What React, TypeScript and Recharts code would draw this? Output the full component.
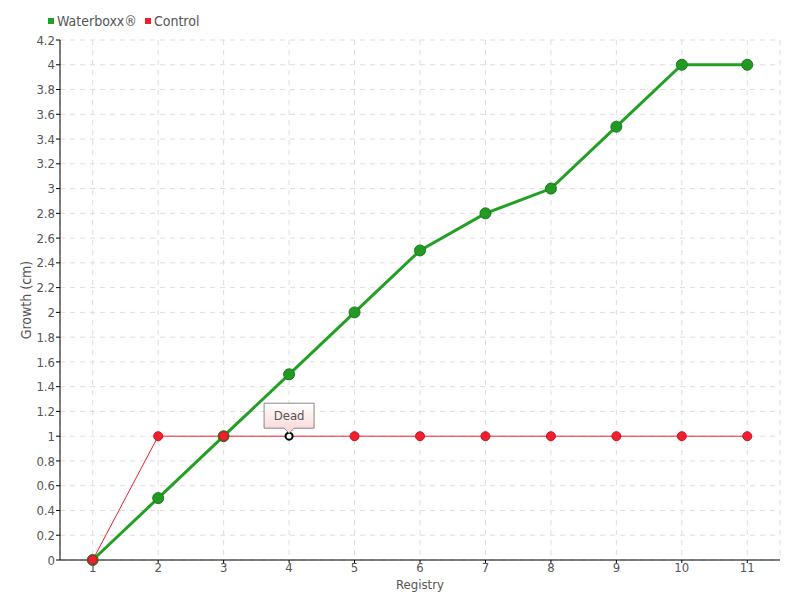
import React from 'react'
import { LineChart, Line, XAxis, YAxis, CartesianGrid } from 'recharts'

const registry = [1, 2, 3, 4, 5, 6, 7, 8, 9, 10, 11]
const waterboxx = [0, 0.5, 1, 1.5, 2, 2.5, 2.8, 3, 3.5, 4, 4]
const control = [0, 1, 1, 1, 1, 1, 1, 1, 1, 1, 1]
const yTicks = [0, 0.2, 0.4, 0.6, 0.8, 1, 1.2, 1.4, 1.6, 1.8, 2, 2.2, 2.4, 2.6, 2.8, 3, 3.2, 3.4, 3.6, 3.8, 4, 4.2]
const deadIndex = 3

const GREEN = '#23a023'
const RED = '#ee1f2f'
const FONT = '"DejaVu Sans Condensed", "DejaVu Sans", sans-serif'

const data = registry.map((r, i) => ({ reg: r, waterboxx: waterboxx[i], control: control[i] }))

function ControlDot(props: any) {
    const { cx, cy, index } = props
    if (cx == null || cy == null) return null
    if (index === deadIndex) {
        const bw = 50
        const bh = 25
        const top = cy - 33
        const left = cx - bw / 2
        return (
            <g>
                <circle cx={cx} cy={cy} r={3.5} fill="#fff" stroke="#000" strokeWidth={2} />
                <path
                    d={`M${left},${top} H${left + bw} V${top + bh} H${cx + 5} L${cx},${top + bh + 5} L${cx - 5},${top + bh} H${left} Z`}
                    fill="url(#deadGrad)"
                    stroke="#888"
                    strokeWidth={1}
                />
                <text x={cx} y={top + 17} textAnchor="middle" fontSize={13} fill="#555" fontFamily={FONT}>Dead</text>
            </g>
        )
    }
    return <circle cx={cx} cy={cy} r={4.5} fill={RED} stroke="#d01020" strokeWidth={1} />
}

function LegendBox() {
    const items = [{ name: 'Waterboxx®', color: GREEN }, { name: 'Control', color: RED }]
    return (
        <div style={{ position: 'absolute', left: 48, top: 13, display: 'flex', fontFamily: FONT, fontSize: 14, color: '#555', lineHeight: '16px' }}>
            {items.map(it => (
                <div key={it.name} style={{ display: 'flex', alignItems: 'center', marginRight: 8 }}>
                    <span style={{ width: 6, height: 6, background: it.color, display: 'inline-block', marginRight: 3 }} />
                    {it.name}
                </div>
            ))}
        </div>
    )
}

function YLabel(props: any) {
    const { viewBox } = props
    const x = 31
    const y = viewBox.y + viewBox.height / 2
    return (
        <text x={x} y={y} transform={`rotate(-90 ${x} ${y})`} textAnchor="middle" fontSize={14} fill="#555" fontFamily={FONT}>
            Growth (cm)
        </text>
    )
}

export default function App() {
    const tickStyle = { fontSize: 13, fill: '#555', fontFamily: FONT }
    return (
        <div style={{ position: 'absolute', left: 0, top: 0, width: 800, height: 600, background: '#fff' }}>
            <LineChart width={800} height={600} data={data} margin={{ top: 40, right: 20, left: 0, bottom: 0 }}>
                <defs>
                    <linearGradient id="deadGrad" x1="0" y1="0" x2="0" y2="1">
                        <stop offset="0%" stopColor="#ffffff" />
                        <stop offset="100%" stopColor="#fcd4d4" />
                    </linearGradient>
                </defs>
                <CartesianGrid stroke="#ddd" strokeDasharray="5 5" />
                <XAxis
                    dataKey="reg"
                    type="number"
                    domain={[0.5, 11.5]}
                    ticks={registry}
                    height={40}
                    stroke="#000"
                    tickSize={3}
                    tick={tickStyle}
                    tickMargin={0}
                    label={{ value: 'Registry', position: 'insideBottom', offset: 11, fontSize: 13, fill: '#555', fontFamily: FONT }}
                />
                <YAxis
                    type="number"
                    domain={[0, 4.2]}
                    ticks={yTicks}
                    width={60}
                    stroke="#000"
                    tickSize={4}
                    tickMargin={1}
                    interval={0}
                    tick={tickStyle}
                    label={<YLabel />}
                />
                <Line
                    dataKey="waterboxx"
                    name="Waterboxx®"
                    stroke={GREEN}
                    strokeWidth={3}
                    dot={{ r: 5.5, fill: '#229922', stroke: '#1a7a1a', strokeWidth: 1 }}
                    isAnimationActive={false}
                />
                <Line
                    dataKey="control"
                    name="Control"
                    stroke={RED}
                    strokeWidth={1}
                    dot={<ControlDot />}
                    isAnimationActive={false}
                />
            </LineChart>
            <LegendBox />
        </div>
    )
}
